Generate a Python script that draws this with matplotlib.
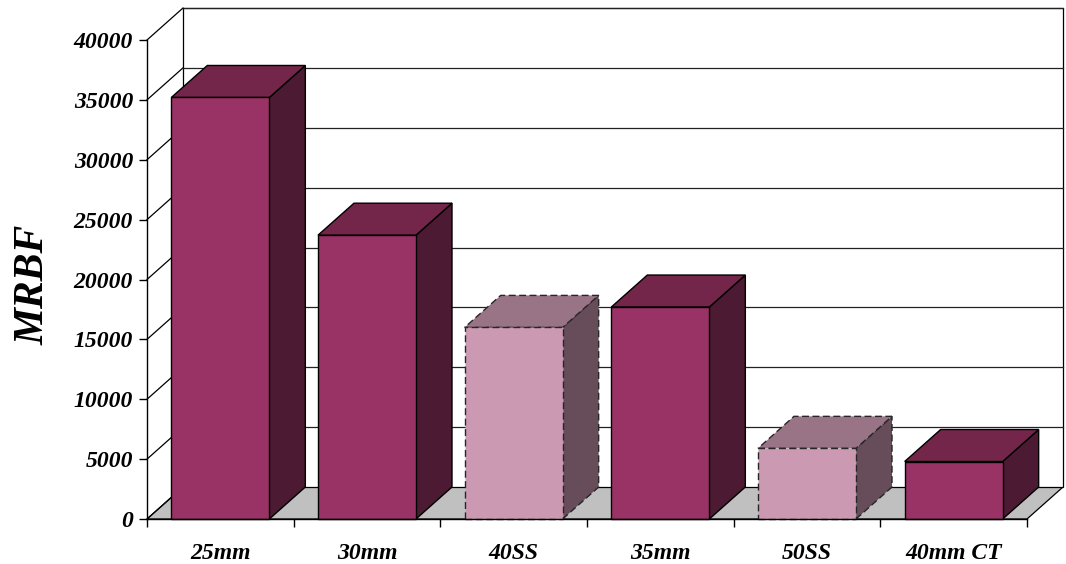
import matplotlib
matplotlib.use("Agg")
import matplotlib.pyplot as plt
from matplotlib.patches import Polygon

# Data
categories = ["25mm", "30mm", "40SS", "35mm", "50SS", "40mm CT"]
mrbf = [35200, 23700, 16000, 17700, 5900, 4800]
highlight = [False, False, True, False, True, False]
y_ticks = [0, 5000, 10000, 15000, 20000, 25000, 30000, 35000, 40000]

# Styling
W, H, DPI = 1066, 564, 100
FONT = "Liberation Serif"
solid = dict(front="#993366", top="#732649", side="#4d1a33", edge="black", ls="-")
pale = dict(front="#cc99b3", top="#997386", side="#664d59", edge="#262626", ls=(0, (5, 2.5)))

fig = plt.figure(figsize=(W / DPI, H / DPI), dpi=DPI)
fig.patch.set_facecolor("white")

# front plane of the plot box, in pixels
x0, x1, y0, y1 = 147, 1027, 519, 40
ax = fig.add_axes([x0 / W, 1 - y0 / H, (x1 - x0) / W, (y0 - y1) / H])
n = len(categories)
ax.set_xlim(-0.5, n - 0.5)
ax.set_ylim(0, 40000)
ax.set_facecolor("none")
for s in ax.spines.values():
    s.set_visible(False)

# depth offset expressed in data units (36 px right, 32 px up)
DX = 36 / ((x1 - x0) / n)
DY = 32 / ((y0 - y1) / 40000)
ymax = 40000

def poly(pts, **kw):
    p = Polygon(pts, closed=True, clip_on=False, **kw)
    ax.add_patch(p)
    return p

L, R = -0.5, n - 0.5
# floor
poly([(L, 0), (R, 0), (R + DX, DY), (L + DX, DY)], facecolor="#c0c0c0",
     edgecolor="black", linewidth=0.9, zorder=1)
# back wall
poly([(L + DX, DY), (R + DX, DY), (R + DX, ymax + DY), (L + DX, ymax + DY)],
     facecolor="white", edgecolor="black", linewidth=0.9, zorder=1)
# gridlines on back wall and left-wall diagonals
for v in y_ticks:
    if v > 0:
        ax.plot([L + DX, R + DX], [v + DY, v + DY], color="#222222", lw=0.9,
                clip_on=False, zorder=2)
    ax.plot([L, L + DX], [v, v + DY], color="black", lw=0.9, clip_on=False, zorder=2)

# front axes lines
ax.plot([L, L], [0, ymax], color="black", lw=1.0, clip_on=False, zorder=6)
ax.plot([L, R], [0, 0], color="black", lw=1.0, clip_on=False, zorder=6)

# bars
bw = 98 / ((x1 - x0) / n)
for i, (v, hl) in enumerate(zip(mrbf, highlight)):
    st = pale if hl else solid
    a, b = i - bw / 2, i + bw / 2
    common = dict(edgecolor=st["edge"], linewidth=1.0, linestyle=st["ls"], zorder=4)
    poly([(b, 0), (b + DX, DY), (b + DX, v + DY), (b, v)], facecolor=st["side"], **common)
    poly([(a, v), (b, v), (b + DX, v + DY), (a + DX, v + DY)], facecolor=st["top"], **common)
    poly([(a, 0), (b, 0), (b, v), (a, v)], facecolor=st["front"], **common)

# ticks and labels
tick_font = dict(family=FONT, weight="bold", style="italic", size=17)
ax.set_yticks(y_ticks)
ax.set_yticklabels([str(t) for t in y_ticks], fontdict=tick_font)
ax.tick_params(axis="y", direction="out", length=6, width=1, color="black", pad=4)

ax.set_xticks([k - 0.5 for k in range(n + 1)])
ax.set_xticklabels([])
ax.set_xticks(range(n), minor=True)
ax.set_xticklabels(categories, minor=True, fontdict=tick_font)
ax.tick_params(axis="x", which="major", direction="out", length=6, width=1, color="black")
ax.tick_params(axis="x", which="minor", length=0, pad=17)

fig.text(34 / W, 1 - 285 / H, "MRBF", family=FONT, weight="bold", style="italic",
         size=30, rotation=90, ha="center", va="center")

fig.savefig("out.png", dpi=DPI, facecolor="white")
